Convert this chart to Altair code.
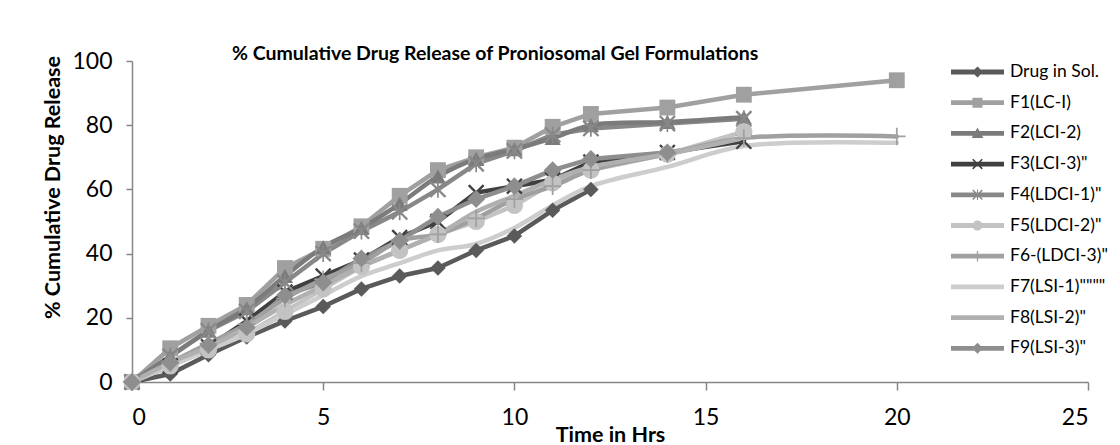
import altair as alt
import pandas as pd

# ---------------- data ----------------
times = [0, 1, 2, 3, 4, 5, 6, 7, 8, 9, 10, 11, 12, 14, 16, 20]

series_names = [
    "Drug in Sol.", "F1(LC-I)", "F2(LCI-2)", 'F3(LCI-3)"', 'F4(LDCI-1)"',
    'F5(LDCI-2)"', 'F6-(LDCI-3)"', 'F7(LSI-1)""""', 'F8(LSI-2)"', 'F9(LSI-3)"',
]

drug_sol = [0, 2.5, 8.5, 14, 19, 23.5, 29, 33, 35.5, 41, 45.5, 53.5, 60]
f1 = [0, 10.5, 17.5, 24, 35.5, 41.5, 48.5, 58, 66, 70, 73, 79.5, 83.5, 85.5, 89.5, 94]
f2 = [0, 8, 16, 23, 33, 42, 48, 55.5, 64, 69.5, 72.5, 76, 80, 81, 82.5]
f3 = [0, 5, 11, 19, 28, 33, 38, 45, 50, 59, 61, 63, 68.5, 71.5, 75]
f4 = [0, 8, 16, 22, 31, 40, 47, 53, 60, 68, 72, 77, 79, 80.5, 82]
f5 = [0, 5, 10, 15, 22, 29, 36, 41, 46, 50, 55, 62, 66, 71, 78]
f6 = [0, 6, 12, 18, 26, 32, 37, 44, 46, 51, 57, 61, 66, 71, 76, 76.5]
f7 = [0, 5, 10, 15, 21, 27, 33, 37, 41, 43, 48, 55, 61, 67, 73.5, 74.5]
f8 = [0, 6, 11, 17, 24, 30, 36, 41, 46, 53, 58, 63, 67, 71, 76]
f9 = [0, 6, 11.5, 17, 27, 31, 38.5, 44, 51.5, 57, 61, 66, 69.5, 71.5]

all_values = [drug_sol, f1, f2, f3, f4, f5, f6, f7, f8, f9]

# ---------------- styling ----------------
colors = ["#5a5a5a", "#a0a0a0", "#7b7b7b", "#404040", "#888888",
          "#c3c3c3", "#a0a0a0", "#cdcdcd", "#b0b0b0", "#8e8e8e"]

X_PATH = "M-1,-0.8L-0.8,-1L1,0.8L0.8,1Z M-1,0.8L0.8,-1L1,-0.8L-0.8,1Z"
AST_PATH = X_PATH + " M-0.1,-1H0.1V1H-0.1Z"
PLUS_PATH = "M-0.1,-1H0.1V1H-0.1Z M-1,-0.1H1V0.1H-1Z"

marker_series = ["Drug in Sol.", "F1(LC-I)", "F2(LCI-2)", 'F3(LCI-3)"', 'F4(LDCI-1)"',
                 'F5(LDCI-2)"', 'F6-(LDCI-3)"', 'F9(LSI-3)"']
marker_shapes = ["diamond", "square", "triangle-up", X_PATH, AST_PATH,
                 "circle", PLUS_PATH, "diamond"]
marker_sizes = [240, 320, 230, 160, 160, 210, 180, 240]

BAR = "M-1,-0.09H1V0.09H-1Z"
legend_shapes = [
    BAR + " M-0.21,0L0,-0.21L0.21,0L0,0.21Z",
    BAR + " M-0.19,-0.19H0.19V0.19H-0.19Z",
    BAR + " M0,-0.22L0.22,0.17L-0.22,0.17Z",
    BAR + " M-0.2,-0.16L-0.16,-0.2L0.2,0.16L0.16,0.2Z M-0.2,0.16L0.16,-0.2L0.2,-0.16L-0.16,0.2Z",
    BAR + " M-0.2,-0.16L-0.16,-0.2L0.2,0.16L0.16,0.2Z M-0.2,0.16L0.16,-0.2L0.2,-0.16L-0.16,0.2Z M-0.02,-0.2H0.02V0.2H-0.02Z",
    BAR + " M-0.19,0A0.19,0.19,0,1,1,0.19,0A0.19,0.19,0,1,1,-0.19,0Z",
    BAR + " M-0.025,-0.2H0.025V0.2H-0.025Z",
    BAR,
    BAR,
    BAR + " M-0.21,0L0,-0.21L0.21,0L0,0.21Z",
]

smooth_series = ["F2(LCI-2)", 'F6-(LDCI-3)"', 'F7(LSI-1)""""', 'F8(LSI-2)"']

rows = []
for name, vals in zip(series_names, all_values):
    for t, v in zip(times, vals):
        rows.append({"series": name, "t": t, "v": v})
df = pd.DataFrame(rows)

FONT = "Lato"

x_enc = alt.X("t:Q", scale=alt.Scale(domain=[0, 25], nice=False),
              axis=alt.Axis(values=[0, 5, 10, 15, 20, 25], title="Time in Hrs",
                            tickSize=8, labelPadding=16, titlePadding=-5))
y_enc = alt.Y("v:Q", scale=alt.Scale(domain=[0, 100], nice=False),
              axis=alt.Axis(values=[0, 20, 40, 60, 80, 100],
                            title="% Cumulative Drug Release", titleY=126,
                            tickSize=6, labelPadding=14, titlePadding=7))

color_plain = alt.Color("series:N", scale=alt.Scale(domain=series_names, range=colors),
                        legend=None)

base = alt.Chart(df)

lines_straight = base.transform_filter(
    alt.FieldOneOfPredicate(field="series", oneOf=[s for s in series_names if s not in smooth_series])
).mark_line(strokeWidth=4.5, strokeCap="round", strokeJoin="round").encode(
    x=x_enc, y=y_enc, color=color_plain, detail="series:N"
)

lines_smooth = base.transform_filter(
    alt.FieldOneOfPredicate(field="series", oneOf=smooth_series)
).mark_line(strokeWidth=4.5, strokeCap="round", interpolate="catmull-rom").encode(
    x=x_enc, y=y_enc, color=color_plain, detail="series:N"
)

points = base.transform_filter(
    alt.FieldOneOfPredicate(field="series", oneOf=marker_series)
).mark_point(filled=True, opacity=1).encode(
    x=x_enc, y=y_enc,
    color=alt.Color("series:N", scale=alt.Scale(domain=series_names, range=colors), legend=None),
    shape=alt.Shape("series:N", scale=alt.Scale(domain=marker_series, range=marker_shapes), legend=None),
    size=alt.Size("series:N", scale=alt.Scale(domain=marker_series, range=marker_sizes), legend=None),
)

leg = alt.Legend(title=None, orient="none", legendX=818, legendY=1,
                 symbolSize=2809, clipHeight=20, labelFont=FONT, labelFontSize=17.5,
                 labelColor="#000000", labelOffset=5, rowPadding=10.7, padding=0,
                 symbolOpacity=1)

legend_layer = base.transform_filter("datum.t < -100").mark_point(
    filled=True, opacity=1, size=2809
).encode(
    x=x_enc, y=y_enc,
    color=alt.Color("series:N", scale=alt.Scale(domain=series_names, range=colors), legend=leg),
    shape=alt.Shape("series:N", scale=alt.Scale(domain=series_names, range=legend_shapes), legend=leg),
)

chart = alt.layer(lines_straight, lines_smooth, points, legend_layer).resolve_scale(
    color="independent", shape="independent", size="independent"
).properties(
    width=956, height=321,
    padding={"left": 124, "top": 53, "right": 24, "bottom": 62},
    autosize=alt.AutoSizeParams(type="none"),
    title=alt.TitleParams(
        text="% Cumulative Drug Release of Proniosomal Gel Formulations",
        font=FONT, fontSize=19.5, fontWeight="bold", color="#000000",
        anchor="start", frame="group", dx=100, dy=14, offset=0,
    ),
).configure_view(strokeWidth=0).configure_axis(
    labelFont=FONT, labelFontSize=23, labelColor="#000000",
    titleFont=FONT, titleFontSize=21.5, titleFontWeight="bold", titleColor="#000000",
    domainColor="#868686", tickColor="#868686", domainWidth=1.5, tickWidth=1.5,
    grid=False,
)

chart.save("out.html", embed_options={"renderer": "svg", "actions": False})
